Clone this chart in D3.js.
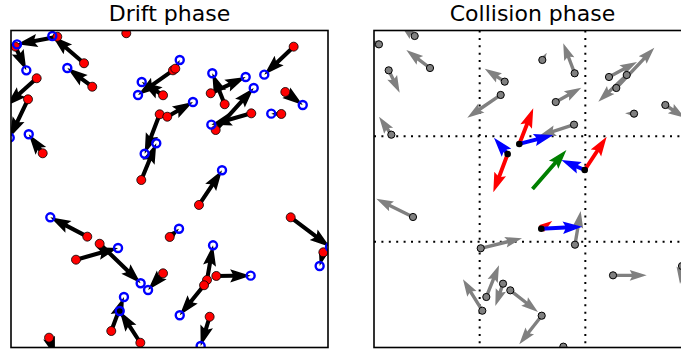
<!DOCTYPE html>
<html>
<head>
<meta charset="utf-8">
<script src="https://cdn.jsdelivr.net/npm/d3@7"></script>
<style>
  body { margin: 0; background: #fff; }
  svg { display: block; font-family: "DejaVu Sans", sans-serif; }
</style>
</head>
<body>
<div id="chart"></div>
<script>
const panelTitles = ["Drift phase", "Collision phase"];
const boxSize = 30;
const cellEdges = [10, 20];

// drift phase: old positions (red) and new positions (blue)
const driftStart = [
  [10.91, 29.74], [4.38, 29.41], [6.91, 26.90], [0.41, 28.47], [7.69, 24.68],
  [2.43, 25.48], [1.61, 23.49], [3.00, 18.38], [15.33, 26.23], [14.39, 23.87],
  [15.55, 26.39], [14.07, 22.07], [12.33, 15.85], [14.79, 21.84], [26.75, 28.47],
  [20.22, 23.02], [18.90, 24.06], [19.37, 20.58], [22.74, 22.16], [25.96, 24.18],
  [25.58, 22.10], [17.79, 13.49], [7.22, 10.49], [6.15, 8.31], [8.39, 9.82],
  [14.39, 7.02], [9.49, 1.56], [12.24, 0.45], [3.60, 0.93], [15.02, 10.46],
  [18.55, 6.39], [19.43, 6.77], [18.27, 5.89], [18.80, 2.91], [26.47, 12.32],
  [29.56, 9.01]
];
const driftEnd = [
  [10.98, 30.43], [0.57, 28.69], [3.91, 29.48], [1.45, 26.23], [5.33, 26.45],
  [-0.47, 22.86], [-0.12, 19.86], [1.68, 20.18], [12.02, 23.90], [12.37, 25.13],
  [15.97, 27.21], [12.65, 18.34], [13.75, 19.33], [17.22, 23.23], [23.97, 25.82],
  [19.05, 25.95], [22.21, 25.60], [22.97, 24.56], [18.96, 21.09], [27.61, 22.95],
  [24.63, 22.13], [19.97, 16.77], [3.72, 12.32], [10.13, 9.42], [12.27, 6.08],
  [12.97, 5.44], [10.69, 4.78], [10.29, 3.45], [4.16, -0.80], [15.90, 11.24],
  [19.12, 9.67], [22.68, 6.80], [15.97, 3.05], [17.95, 0.14], [30.19, 9.51],
  [29.21, 7.71]
];

// collision phase: other particles (grey) with their velocities
const grayPos = [
  [3.85, 29.48], [0.47, 28.69], [5.30, 26.45], [1.39, 26.23], [1.64, 20.14],
  [12.37, 25.16], [11.99, 23.90], [15.93, 27.21], [18.99, 25.95], [17.20, 23.23],
  [18.93, 21.09], [22.24, 25.60], [22.93, 24.56], [23.92, 25.79], [24.61, 22.13],
  [27.57, 22.95], [3.69, 12.35], [10.10, 9.39], [10.63, 4.78], [10.25, 3.48],
  [12.21, 6.04], [12.90, 5.41], [15.87, 3.01], [19.02, 9.73], [22.62, 6.83],
  [29.15, 7.71], [17.92, 0.08]
];
const grayVel = [
  [-1.39, 1.14], [-1.23, 0.22], [-2.24, 1.70], [1.04, -2.12], [-1.16, 1.70],
  [-1.89, 1.23], [-3.16, -2.15], [0.42, 0.69], [-1.08, 2.84], [2.42, 1.35],
  [-3.31, -1.07], [2.65, 1.42], [3.60, 3.81], [-2.69, -2.53], [-0.85, 0.04],
  [1.86, -1.23], [-3.47, 1.73], [3.91, 0.95], [1.20, 3.00], [-1.83, 2.97],
  [-0.73, -2.11], [2.62, -2.05], [-2.12, -2.71], [0.54, 3.19], [3.19, 0.00],
  [-0.19, -1.70], [0.00, -1.07]
];

// collision phase: particles in the highlighted cell
const cellPos = [[13.75, 19.26], [12.65, 18.31], [19.94, 16.80], [15.83, 11.24]];
const oldVel = [[1.32, 3.38], [-1.36, -3.62], [2.08, 3.15], [1.04, 0.73]];
const newVel = [[3.22, 0.85], [-1.30, 1.54], [-2.21, 0.95], [3.88, 0.19]];
const cellCenter = [15, 15];
const meanVel = [3.21, 3.69];

const width = 681, height = 352;
const panelTop = 30.5, panelSize = 317;
const panelLefts = [11, 374];

const svg = d3.select("#chart").append("svg")
  .attr("width", width)
  .attr("height", height);

const y = d3.scaleLinear().domain([0, boxSize]).range([panelTop + panelSize, panelTop]);

// quiver-like arrow polygon in pixel space, barbed head
function arrowPath(x1, y1, x2, y2, w) {
  const dx = x2 - x1, dy = y2 - y1;
  let L = Math.hypot(dx, dy);
  if (L < 0.01) return "";
  let s = 1;
  const hl = 5 * w;
  if (L < hl) { s = L / hl; }
  const ww = w * s, hlen = 5 * ww, hax = 4.4 * ww, hw = 1.6 * ww;
  const pts = [
    [0, -ww / 2], [L - hax, -ww / 2], [L - hlen, -hw], [L, 0],
    [L - hlen, hw], [L - hax, ww / 2], [0, ww / 2]
  ];
  const c = dx / L, sn = dy / L;
  const rot = pts.map(p => [x1 + p[0] * c - p[1] * sn, y1 + p[0] * sn + p[1] * c]);
  return d3.line()(rot) + "Z";
}

panelLefts.forEach(function (left, i) {
  const x = d3.scaleLinear().domain([0, boxSize]).range([left, left + panelSize]);

  svg.append("clipPath").attr("id", "clip" + i)
    .append("rect")
      .attr("x", left).attr("y", panelTop)
      .attr("width", panelSize).attr("height", panelSize);

  svg.append("text")
    .attr("x", left + panelSize / 2)
    .attr("y", 21)
    .attr("text-anchor", "middle")
    .attr("font-size", 22)
    .attr("fill", "#000")
    .text(panelTitles[i]);

  const g = svg.append("g").attr("clip-path", "url(#clip" + i + ")");

  if (i === 0) {
    g.selectAll(".drift-arrow")
      .data(driftStart)
      .enter().append("path")
        .attr("class", "drift-arrow")
        .attr("fill", "#000")
        .attr("d", (d, j) => arrowPath(x(d[0]), y(d[1]), x(driftEnd[j][0]), y(driftEnd[j][1]), 4.1));

    g.selectAll(".old")
      .data(driftStart)
      .enter().append("circle")
        .attr("class", "old")
        .attr("cx", d => x(d[0]))
        .attr("cy", d => y(d[1]))
        .attr("r", 4.5)
        .attr("fill", "#ff0000")
        .attr("stroke", "#000")
        .attr("stroke-width", 0.8);

    g.selectAll(".new")
      .data(driftEnd)
      .enter().append("circle")
        .attr("class", "new")
        .attr("cx", d => x(d[0]))
        .attr("cy", d => y(d[1]))
        .attr("r", 4)
        .attr("fill", "none")
        .attr("stroke", "#0000ff")
        .attr("stroke-width", 2.4);
  } else {
    const grid = g.append("g")
      .attr("stroke", "#000")
      .attr("stroke-width", 2)
      .attr("stroke-dasharray", "2,5.4");
    grid.selectAll(".vline")
      .data(cellEdges)
      .enter().append("line")
        .attr("x1", d => x(d)).attr("x2", d => x(d))
        .attr("y1", y(boxSize)).attr("y2", y(0));
    grid.selectAll(".hline")
      .data(cellEdges)
      .enter().append("line")
        .attr("x1", x(0)).attr("x2", x(boxSize))
        .attr("y1", d => y(d)).attr("y2", d => y(d));

    g.selectAll(".gray-arrow")
      .data(grayPos)
      .enter().append("path")
        .attr("fill", "#808080")
        .attr("d", (d, j) => arrowPath(x(d[0]), y(d[1]),
          x(d[0] + grayVel[j][0]), y(d[1] + grayVel[j][1]), 3.4));

    g.selectAll(".gray-dot")
      .data(grayPos)
      .enter().append("circle")
        .attr("cx", d => x(d[0]))
        .attr("cy", d => y(d[1]))
        .attr("r", 3.6)
        .attr("fill", "#808080")
        .attr("stroke", "#000")
        .attr("stroke-width", 1);

    g.selectAll(".old-vel")
      .data(cellPos)
      .enter().append("path")
        .attr("fill", "#ff0000")
        .attr("d", (d, j) => arrowPath(x(d[0]), y(d[1]),
          x(d[0] + oldVel[j][0]), y(d[1] + oldVel[j][1]), 3.9));

    g.selectAll(".new-vel")
      .data(cellPos)
      .enter().append("path")
        .attr("fill", "#0000ff")
        .attr("d", (d, j) => arrowPath(x(d[0]), y(d[1]),
          x(d[0] + newVel[j][0]), y(d[1] + newVel[j][1]), 3.9));

    g.append("path")
      .attr("fill", "#008000")
      .attr("d", arrowPath(x(cellCenter[0]), y(cellCenter[1]),
        x(cellCenter[0] + meanVel[0]), y(cellCenter[1] + meanVel[1]), 3.9));

    g.selectAll(".cell-dot")
      .data(cellPos)
      .enter().append("circle")
        .attr("cx", d => x(d[0]))
        .attr("cy", d => y(d[1]))
        .attr("r", 3.3)
        .attr("fill", "#000");
  }

  svg.append("rect")
    .attr("x", left).attr("y", panelTop)
    .attr("width", panelSize).attr("height", panelSize)
    .attr("fill", "none")
    .attr("stroke", "#000")
    .attr("stroke-width", 1.6);
});
</script>
</body>
</html>
